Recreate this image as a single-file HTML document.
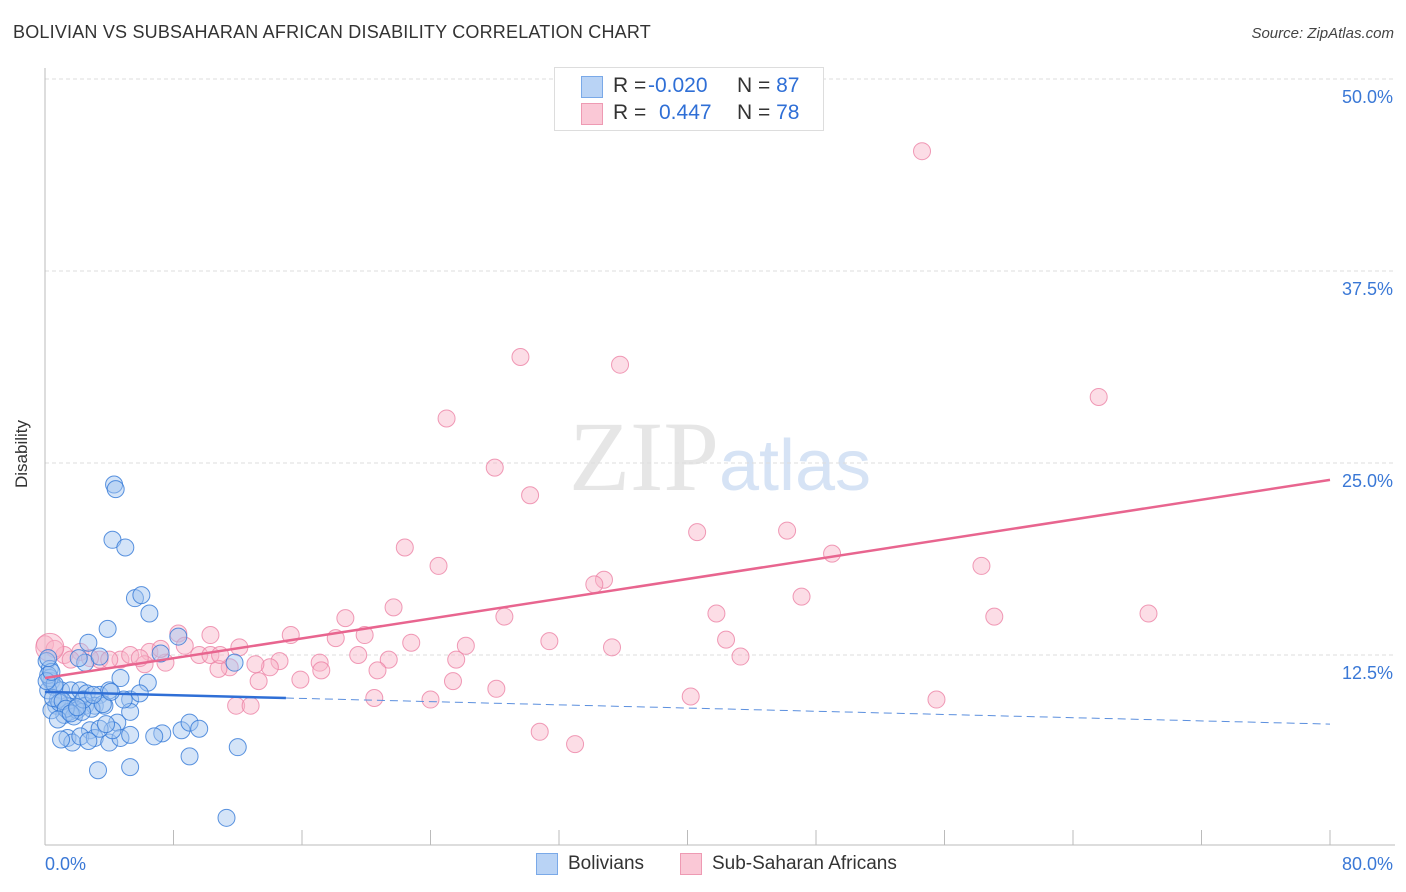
<!DOCTYPE html>
<html><head><meta charset="utf-8"><style>
body{margin:0;background:#fff;font-family:"Liberation Sans",sans-serif;}
#wrap{position:relative;width:1406px;height:892px;overflow:hidden;}
.t{position:absolute;white-space:nowrap;}
</style></head><body>
<div id="wrap">
<div class="t" style="left:13px;top:22px;font-size:18px;color:#333;letter-spacing:0.2px">BOLIVIAN VS SUBSAHARAN AFRICAN DISABILITY CORRELATION CHART</div>
<div class="t" style="right:12px;top:25px;font-size:15px;color:#444;font-style:italic">Source: ZipAtlas.com</div>
<div class="t" style="left:-12px;top:444px;font-size:17px;color:#333;transform:rotate(-90deg)">Disability</div>
<svg id="svg" width="1406" height="892" style="position:absolute;left:0;top:0"></svg>
<div style="position:absolute;left:554px;top:67px;width:268px;height:62px;border:1px solid #ddd;background:#fff;font-size:21px;color:#333">
 <div style="position:absolute;left:26px;top:8px;width:20px;height:20px;background:#b9d3f5;border:1px solid #7aa9e8"></div>
 <div class="t" style="left:58px;top:6px">R =</div>
 <div class="t" style="left:93px;top:6px;color:#2f6fd6">-0.020</div>
 <div class="t" style="left:182px;top:6px">N = <span style="color:#2f6fd6">87</span></div>
 <div style="position:absolute;left:26px;top:35px;width:20px;height:20px;background:#fac8d6;border:1px solid #ee9ab3"></div>
 <div class="t" style="left:58px;top:33px">R =</div>
 <div class="t" style="left:104px;top:33px;color:#2f6fd6">0.447</div>
 <div class="t" style="left:182px;top:33px">N = <span style="color:#2f6fd6">78</span></div>
</div>
<div style="position:absolute;left:536px;top:853px;font-size:19px;color:#333">
 <div style="position:absolute;left:0;top:0;width:20px;height:20px;background:#b9d3f5;border:1px solid #7aa9e8"></div>
 <div class="t" style="left:32px;top:0">Bolivians</div></div>
<div style="position:absolute;left:680px;top:853px;font-size:19px;color:#333">
 <div style="position:absolute;left:0;top:0;width:20px;height:20px;background:#fac8d6;border:1px solid #ee9ab3"></div>
 <div class="t" style="left:32px;top:0">Sub-Saharan Africans</div></div>
</div>
<script>
const yTicks=[12.5,25,37.5,50];
const yTickLabels=["12.5%","25.0%","37.5%","50.0%"];
const xTicks=[0,8,16,24,32,40,48,56,64,72,80];
const bolX=[4.3,4.4,4.2,5.0,5.6,6.0,6.5,3.9,2.7,8.3,6.4,7.2,11.8,4.7,0.1,0.3,0.4,0.6,1.0,1.6,2.2,2.6,3.4,4.0,5.3,0.7,1.4,1.9,2.5,3.1,3.7,1.2,2.8,4.5,5.3,1.4,1.7,2.2,3.1,4.0,4.7,5.3,7.3,8.5,9.0,9.6,9.0,3.3,5.3,12.0,11.3,0.4,0.8,0.2,4.2,3.4,2.5,2.1,3.4,5.9,0.3,0.9,1.5,2.0,2.9,0.2,0.5,1.1,1.8,2.3,3.6,4.9,0.6,1.3,2.4,0.1,0.8,1.6,3.0,4.1,0.4,2.0,1.0,2.7,3.8,6.8,0.2];
const bolY=[23.6,23.3,20.0,19.5,16.2,16.4,15.2,14.2,13.3,13.7,10.7,12.6,12.0,11.0,12.1,11.6,10.8,10.4,10.2,10.2,10.2,10.0,9.9,10.2,9.6,9.2,9.2,9.0,9.2,9.2,9.2,8.6,7.6,8.1,8.8,7.1,6.8,7.2,7.1,6.8,7.1,7.3,7.4,7.6,8.1,7.7,5.9,5.0,5.2,6.5,1.9,8.9,9.6,10.2,7.6,7.7,12.0,12.3,12.4,10.0,11.0,9.4,8.8,8.9,9.0,11.2,9.7,9.5,8.5,8.8,9.3,9.6,10.6,9.0,9.6,10.8,8.3,8.7,9.9,10.1,11.4,9.1,7.0,6.9,8.0,7.2,12.3];
const ssaX=[54.6,29.6,35.8,65.6,25.0,28.0,30.2,22.4,40.6,46.2,49.0,24.5,58.3,34.8,34.2,47.1,21.7,28.6,41.8,59.1,68.7,18.7,42.4,31.4,26.2,35.3,22.8,18.1,19.9,15.3,10.3,8.3,43.3,25.6,21.4,19.5,17.1,14.6,14.0,12.1,9.6,7.5,6.5,6.2,4.7,3.4,2.2,1.2,1.6,0.0,0.6,11.5,10.8,13.3,15.9,25.4,28.1,20.5,24.0,40.2,55.5,11.9,12.8,30.8,33.0,10.3,8.7,5.3,4.0,7.2,17.2,20.7,10.9,13.1,5.9,2.8,0.3];
const ssaY=[45.3,31.9,31.4,29.3,27.9,24.7,22.9,19.5,20.5,20.6,19.1,18.3,18.3,17.4,17.1,16.3,15.6,15.0,15.2,15.0,15.2,14.9,13.5,13.4,13.1,13.0,13.3,13.6,13.8,13.8,13.8,13.9,12.4,12.2,12.2,12.5,12.0,12.1,11.7,13.0,12.5,12.0,12.7,11.9,12.2,12.2,12.7,12.5,12.2,13.2,12.9,11.7,11.6,10.8,10.9,10.8,10.3,9.7,9.6,9.8,9.6,9.2,9.2,7.5,6.7,12.5,13.1,12.5,12.2,12.9,11.5,11.5,12.5,11.9,12.3,12.3,13.0];
const bolTrend=[[0,10.1],[15,9.7],[80,8.0]];
const ssaTrend=[[0,11.0],[80,23.9]];
const X0=45,X1=1330,Y0=847,Y50=79;
const xs=v=>X0+(X1-X0)*v/80;
const ys=v=>Y0+(Y50-Y0)*v/50;
const svg=document.getElementById('svg');
const NS='http://www.w3.org/2000/svg';
function mk(t,a){const e=document.createElementNS(NS,t);for(const k in a)e.setAttribute(k,a[k]);svg.appendChild(e);return e;}
const wm=mk('text',{x:720,y:490,'text-anchor':'middle','font-size':100,'font-family':'Liberation Serif,serif',fill:'#e6e6e6'});


wm.innerHTML='ZIP<tspan fill="#d6e3f5" font-family="Liberation Sans,sans-serif" font-size="72">atlas</tspan>';
yTicks.forEach((v,i)=>{
 const g=mk('line',{x1:X0,x2:1395,y1:ys(v),y2:ys(v),stroke:'#ddd','stroke-dasharray':'4,3'});
 
 
 const t=mk('text',{x:1393,y:ys(v)+24,'text-anchor':'end','font-size':18,fill:'#3a78d6','font-family':'Liberation Sans,sans-serif'});
 
 
 t.textContent=yTickLabels[i];
});
const ax=mk('line',{x1:X0,x2:X0,y1:68,y2:845,stroke:'#bbb'});


const bx=mk('line',{x1:X0,x2:1395,y1:845,y2:845,stroke:'#bbb'});


xTicks.forEach(v=>{
 const l=mk('line',{x1:xs(v),x2:xs(v),y1:830,y2:845,stroke:'#bbb'});
 
 
});
[[0,'0.0%','start',45],[80,'80.0%','end',1393]].forEach(d=>{
 const t=mk('text',{x:d[3],y:870,'text-anchor':d[2],'font-size':18,fill:'#3a78d6','font-family':'Liberation Sans,sans-serif'});
 
 
 t.textContent=d[1];
});
ssaX.forEach((x,i)=>{
 const c=mk('circle',{cx:xs(x),cy:ys(ssaY[i]),r:i==ssaX.length-1?14:8.5,fill:'rgba(248,180,200,0.45)',stroke:'rgba(236,130,165,0.8)','stroke-width':1});
 
 
});
bolX.forEach((x,i)=>{
 const c=mk('circle',{cx:xs(x),cy:ys(bolY[i]),r:8.5,fill:'rgba(160,195,240,0.45)',stroke:'rgba(50,120,215,0.8)','stroke-width':1});
 
 
});
const pl=mk('line',{x1:xs(ssaTrend[0][0]),y1:ys(ssaTrend[0][1]),x2:xs(ssaTrend[1][0]),y2:ys(ssaTrend[1][1]),stroke:'#e8658f','stroke-width':2.5});


const bl=mk('line',{x1:xs(bolTrend[0][0]),y1:ys(bolTrend[0][1]),x2:xs(bolTrend[1][0]),y2:ys(bolTrend[1][1]),stroke:'#2f6fd6','stroke-width':2.5});


const bd=mk('line',{x1:xs(bolTrend[1][0]),y1:ys(bolTrend[1][1]),x2:xs(bolTrend[2][0]),y2:ys(bolTrend[2][1]),stroke:'#5b8fde','stroke-width':1,'stroke-dasharray':'8,5'});


</script>
</body></html>
